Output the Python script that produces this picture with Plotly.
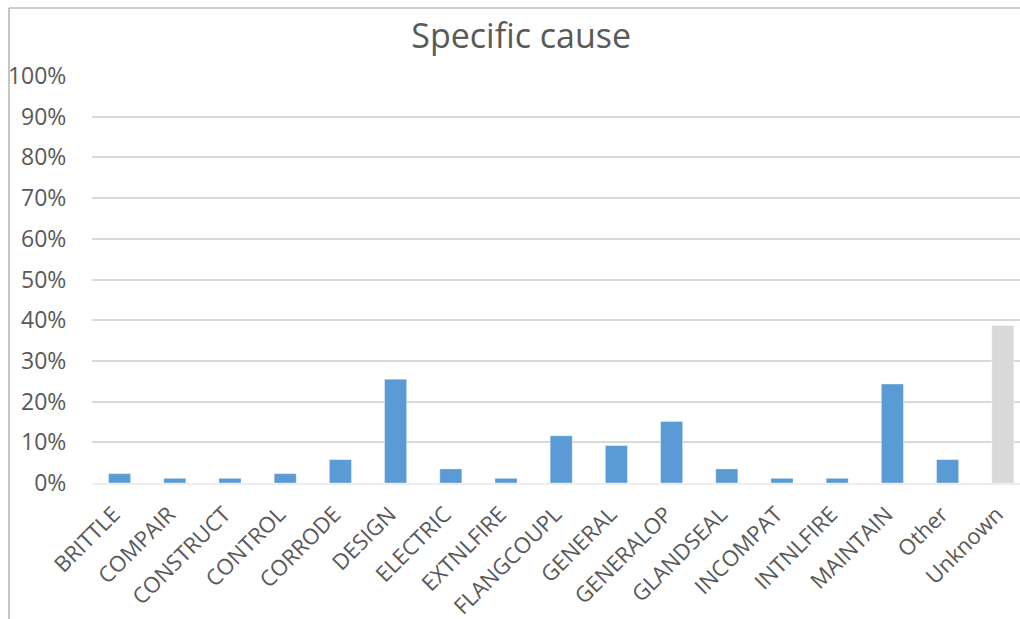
import plotly.graph_objects as go

categories = ["BRITTLE", "COMPAIR", "CONSTRUCT", "CONTROL", "CORRODE", "DESIGN",
              "ELECTRIC", "EXTNLFIRE", "FLANGCOUPL", "GENERAL", "GENERALOP",
              "GLANDSEAL", "INCOMPAT", "INTNLFIRE", "MAINTAIN", "Other", "Unknown"]
share_pct = [2.3, 1.15, 1.15, 2.3, 5.75, 25.5, 3.45, 1.15, 11.6, 9.2, 15.1,
             3.45, 1.15, 1.15, 24.3, 5.75, 38.7]
y_ticks = [0, 10, 20, 30, 40, 50, 60, 70, 80, 90, 100]
title_text = "Specific cause"

BLUE = "#5B9BD5"
GREY = "#D9D9D9"
colors = [GREY if c == "Unknown" else BLUE for c in categories]

W, H = 1020, 619
ml, mr, mt, mb = 92, 0, 76, 136
plot_w = W - ml - mr
plot_h = H - mt - mb
step = 55.2  # approx px per category
n = len(categories)
x_max = (n - 0.5) - ((ml + n * step) - W) / step

fig = go.Figure(go.Bar(
    x=categories, y=share_pct,
    marker=dict(color=colors, line=dict(color="rgba(255,255,255,0.35)", width=1)),
    width=0.4,
    hoverinfo="x+y",
))

fig.update_layout(
    width=W, height=H,
    margin=dict(l=ml, r=mr, t=mt, b=mb, pad=0),
    paper_bgcolor="white", plot_bgcolor="white",
    font=dict(family="Open Sans", color="#595959", size=20),
    title=dict(text=title_text, x=0.511, xanchor="center", y=1 - 36 / H, yanchor="middle",
               font=dict(family="Open Sans", size=34, color="#595959")),
    showlegend=False,
    bargap=0.6,
)

fig.update_yaxes(
    range=[0, 100], tickvals=y_ticks, ticktext=[f"{v}%" for v in y_ticks],
    showgrid=True, gridcolor="#D9D9D9", gridwidth=1.5,
    zeroline=False, showline=False,
    ticks="outside", ticklen=20, tickcolor="rgba(0,0,0,0)",
    tickfont=dict(size=23, color="#595959"),
    fixedrange=True,
)
fig.update_xaxes(
    range=[-0.5, x_max],
    showgrid=False, showline=True, linecolor="#EDEDED", linewidth=1.5,
    tickangle=-45, ticks="outside", ticklen=8, tickcolor="rgba(0,0,0,0)",
    ticklabelshift=-6,
    tickfont=dict(size=22, color="#595959"),
    fixedrange=True,
)

# chart-area border (left and top edges visible in the crop)
bx = (9 - ml) / plot_w
by_top = 1 + (mt - 8) / plot_h
by_bot = -(H - mt - plot_h + 10) / plot_h
fig.add_shape(type="line", xref="paper", yref="paper", x0=bx, x1=bx, y0=by_bot, y1=by_top,
              line=dict(color="#A0A0A0", width=1.2))
fig.add_shape(type="line", xref="paper", yref="paper", x0=bx, x1=1.02, y0=by_top, y1=by_top,
              line=dict(color="#A0A0A0", width=1.2))

fig.write_html("out.html", config={"displayModeBar": False},
               post_script="document.body.style.margin='0';document.body.style.overflow='hidden';")
